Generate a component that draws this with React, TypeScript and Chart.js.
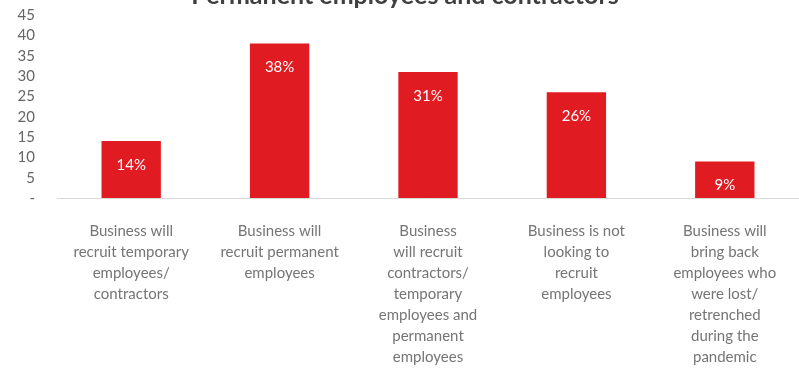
import React, { useEffect, useRef } from "react";
import { Chart, registerables } from "chart.js";

Chart.register(...registerables);

const titleText = "Permanent employees and contractors";
const categories: string[][] = [
  ["Business will", "recruit temporary", "employees/", "contractors"],
  ["Business will", "recruit permanent", "employees"],
  ["Business", "will recruit", "contractors/", "temporary", "employees and", "permanent", "employees"],
  ["Business is not", "looking to", "recruit", "employees"],
  ["Business will", "bring back", "employees who", "were lost/", "retrenched", "during the", "pandemic"],
];
const values: number[] = [14, 38, 31, 26, 9];
const yTicks: number[] = [0, 5, 10, 15, 20, 25, 30, 35, 40, 45];

const BAR_COLOR = "#E11B22";
const FONT = "Lato, 'Open Sans', sans-serif";

const titlePlugin = {
  id: "cutTitle",
  afterDraw(chart: any) {
    const ctx = chart.ctx;
    ctx.save();
    ctx.font = `bold 25px ${FONT}`;
    ctx.fillStyle = "#404040";
    ctx.textAlign = "center";
    ctx.textBaseline = "alphabetic";
    ctx.fillText(titleText, 405, 4);
    ctx.restore();
  },
};

const valueLabelPlugin = {
  id: "valueLabels",
  afterDatasetsDraw(chart: any) {
    const ctx = chart.ctx;
    const meta = chart.getDatasetMeta(0);
    ctx.save();
    ctx.font = `15px ${FONT}`;
    ctx.fillStyle = "#ffffff";
    ctx.textAlign = "center";
    ctx.textBaseline = "middle";
    meta.data.forEach((bar: any, i: number) => {
      ctx.fillText(`${values[i]}%`, bar.x, bar.y + 24);
    });
    ctx.restore();
  },
};

export default function App() {
  const ref = useRef<HTMLCanvasElement | null>(null);
  useEffect(() => {
    if (!ref.current) return;
    const chart = new Chart(ref.current, {
      type: "bar",
      data: {
        labels: categories,
        datasets: [
          {
            data: values,
            backgroundColor: BAR_COLOR,
            borderWidth: 0,
            categoryPercentage: 1,
            barPercentage: 0.4,
          },
        ],
      },
      options: {
        animation: false,
        responsive: false,
        maintainAspectRatio: false,
        layout: { padding: { top: 15, right: 0, bottom: 0, left: 0 } },
        plugins: {
          legend: { display: false },
          tooltip: { enabled: false },
          title: { display: false },
        },
        scales: {
          x: {
            grid: { display: false, drawTicks: false },
            border: { display: true, color: "#d9d9d9", width: 1 },
            ticks: {
              color: "#757575",
              font: { family: FONT, size: 15, lineHeight: 1.4 },
              padding: 23,
              maxRotation: 0,
              autoSkip: false,
            },
            afterFit(scale: any) {
              scale.height = 171;
              scale.paddingLeft = 0;
              scale.paddingRight = 0;
            },
          },
          y: {
            min: 0,
            max: 45,
            afterBuildTicks(scale: any) {
              scale.ticks = yTicks.map((v) => ({ value: v }));
            },
            grid: { display: false, drawTicks: false },
            border: { display: false },
            ticks: {
              color: "#666666",
              font: { family: FONT, size: 15 },
              padding: 22,
              autoSkip: false,
              callback: (v: any) => (Number(v) === 0 ? "-" : String(v)),
            },
            afterFit(scale: any) {
              scale.width = 57;
              scale.paddingTop = 0;
              scale.paddingBottom = 0;
            },
          },
        },
      },
      plugins: [titlePlugin, valueLabelPlugin],
    });
    return () => chart.destroy();
  }, []);
  return (
    <div style={{ position: "fixed", left: 0, top: 0, width: 799, height: 369, background: "#fff" }}>
      <canvas ref={ref} width={799} height={369} style={{ width: 799, height: 369, display: "block" }} />
    </div>
  );
}
